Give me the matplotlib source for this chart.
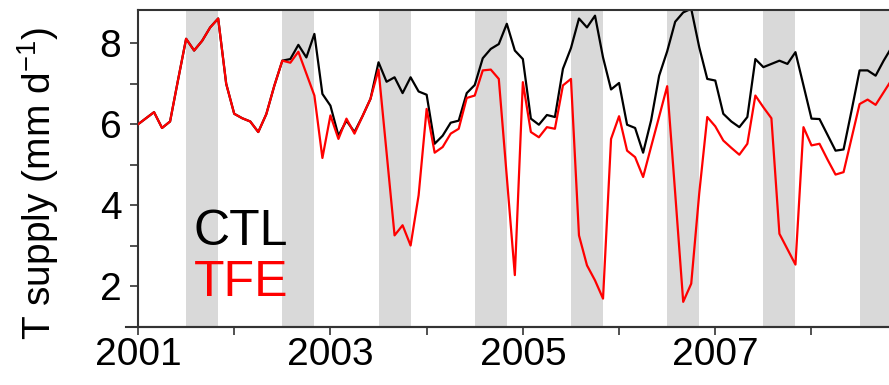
import matplotlib.pyplot as plt
import numpy as np

# monthly T supply (mm/d), Jan 2001 .. Nov 2008
ctl = [6.00, 6.15, 6.30, 5.91, 6.07, 7.10, 8.11, 7.82, 8.06, 8.39, 8.61, 7.00,
       6.26, 6.15, 6.07, 5.81, 6.25, 6.95, 7.57, 7.61, 7.96, 7.65, 8.23, 6.75,
       6.46, 5.72, 6.09, 5.81, 6.20, 6.63, 7.53, 7.05, 7.16, 6.77, 7.16, 6.81,
       6.73, 5.52, 5.72, 6.04, 6.09, 6.77, 6.97, 7.63, 7.86, 7.98, 8.48, 7.82,
       7.61, 6.14, 5.99, 6.23, 6.18, 7.37, 7.88, 8.61, 8.39, 8.68, 7.65, 6.86,
       7.02, 5.99, 5.91, 5.30, 6.10, 7.20, 7.80, 8.53, 8.76, 8.85, 7.90, 7.12,
       7.08, 6.26, 6.07, 5.93, 6.18, 7.61, 7.41, 7.49, 7.57, 7.49, 7.78, 6.96,
       6.14, 6.13, 5.74, 5.35, 5.38, 6.34, 7.33, 7.33, 7.20, 7.57, 7.90]
tfe = [6.00, 6.15, 6.30, 5.91, 6.07, 7.10, 8.11, 7.82, 8.06, 8.39, 8.61, 7.00,
       6.26, 6.15, 6.07, 5.81, 6.25, 6.95, 7.57, 7.52, 7.79, 7.25, 6.71, 5.17,
       6.22, 5.64, 6.14, 5.77, 6.20, 6.63, 7.35, 5.31, 3.26, 3.51, 3.01, 4.25,
       6.38, 5.30, 5.44, 5.77, 5.89, 6.65, 6.71, 7.33, 7.35, 7.12, 4.70, 2.28,
       7.04, 5.81, 5.68, 5.93, 5.89, 6.96, 7.12, 3.26, 2.52, 2.15, 1.70, 5.64,
       6.20, 5.35, 5.19, 4.70, 5.45, 6.19, 6.94, 4.30, 1.62, 2.07, 4.30, 6.18,
       5.95, 5.60, 5.42, 5.25, 5.52, 6.71, 6.42, 6.15, 3.30, 2.92, 2.54, 5.93,
       5.48, 5.52, 5.13, 4.76, 4.82, 5.66, 6.50, 6.61, 6.48, 6.79, 7.10]
start_year = 2001
years = list(range(2001, 2009))
label_years = [2001, 2003, 2005, 2007]

t = start_year + np.arange(len(ctl)) / 12.0

plt.rcParams['font.family'] = ['Liberation Sans', 'DejaVu Sans']
plt.rcParams['mathtext.default'] = 'regular'

fig = plt.figure(figsize=(8.89, 3.85), dpi=100)
ax = fig.add_axes([138 / 889, 1 - 327 / 385, 1.003 - 138 / 889, 317 / 385])

# dry season (Jul-Oct) shading
for y in years:
    ax.axvspan(y + 0.5, y + 10 / 12, color='#d9d9d9', lw=0, zorder=0)

ax.plot(t, ctl, color='black', lw=1.6, zorder=2)
ax.plot(t, tfe, color='#ff0000', lw=1.6, zorder=3)

ax.set_xlim(t[0], t[-1])
ax.set_ylim(1, 8.82)

ax.set_xticks(years)
ax.set_xticklabels([str(y) if y in label_years else '' for y in years])
ax.set_yticks(range(1, 9))
ax.set_yticklabels([str(v) if v % 2 == 0 else '' for v in range(1, 9)])
ax.tick_params(direction='out', length=6, width=1.2, labelsize=28, color='#333333')
ax.tick_params(axis='x', pad=1)
ax.tick_params(axis='y', pad=6)

for s in ['top', 'bottom', 'left', 'right']:
    ax.spines[s].set_color('#333333')
    ax.spines[s].set_linewidth(1.5)
ax.spines['right'].set_visible(False)
ax.plot([-0.016, 1], [0, 0], transform=ax.transAxes, color='#333333',
        lw=1.5, clip_on=False)

ax.text(0.074, 0.259, 'CTL', transform=ax.transAxes, fontsize=36,
        color='black', va='baseline')
ax.text(0.074, 0.098, 'TFE', transform=ax.transAxes, fontsize=36,
        color='#ff0000', va='baseline')

fig.text(38 / 889, 1 - 184 / 385, r'T supply (mm d$^{-1}$)', rotation=90,
         ha='center', va='center', fontsize=28)

fig.savefig('out.png', dpi=100)
